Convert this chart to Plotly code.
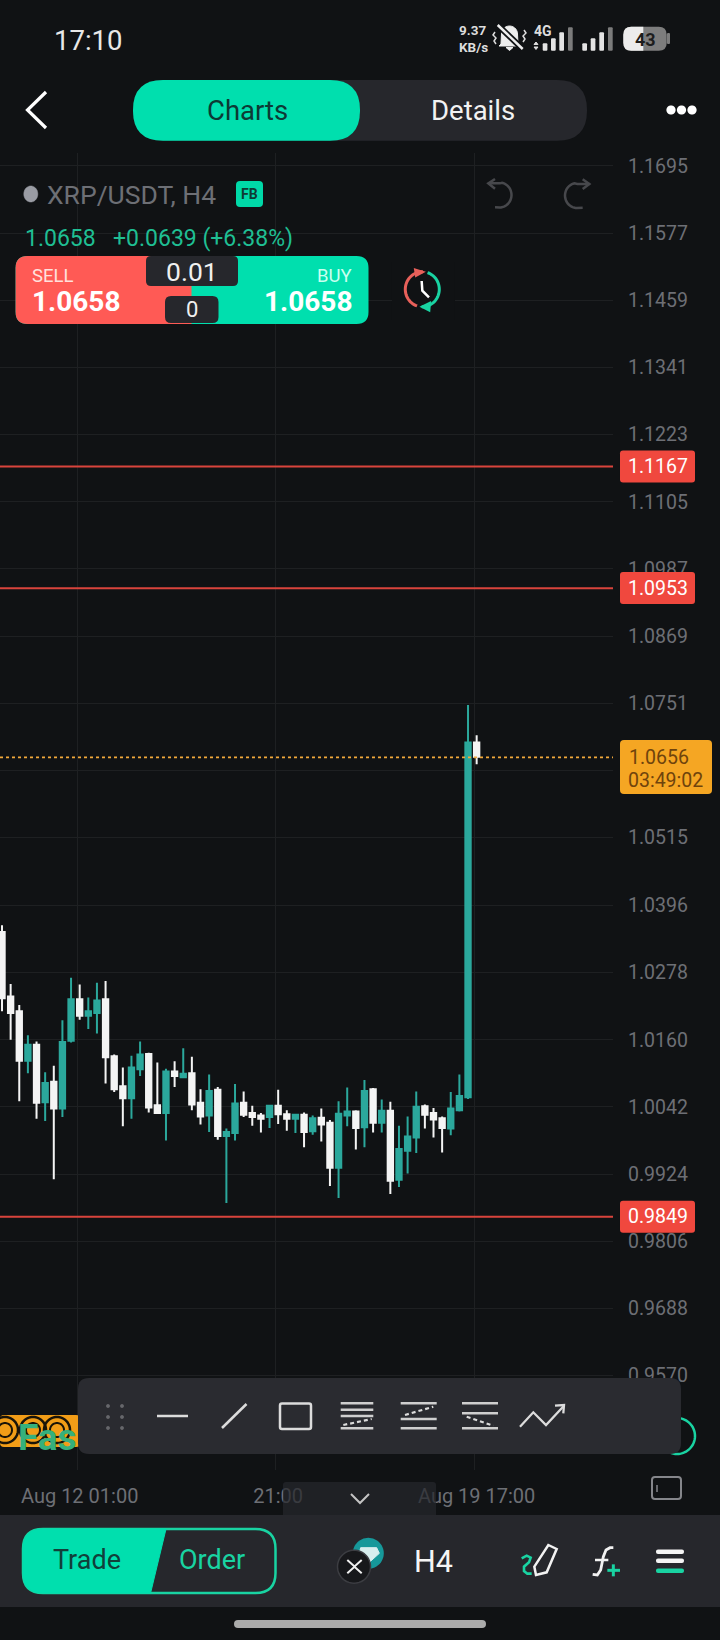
import math
import pandas as pd
import plotly.graph_objects as go

W, H = 720, 1640
BG = "#101214"
GRID = "#1e2022"
PANEL = "#26272c"
GREEN = "#00DFAE"
TEAL = "#2BA89C"
RED = "#FF5A55"
AXIS_TXT = "#6d6f75"

# ---------- data ----------
first_candle = "2021-08-10 13:00"
opens = [1.0349,1.0236,1.0210,1.0123,1.0151,1.0050,1.0086,1.0039,1.0158,1.0231,1.0202,1.0207,1.0231,1.0131,1.0078,1.0057,
         1.0108,1.0135,1.0045,1.0031,1.0104,1.0094,1.0101,1.0049,1.0027,1.0072,0.9991,0.9996,1.0049,1.0031,1.0027,1.0024,
         1.0044,1.0029,1.0021,1.0028,0.9999,1.0023,1.0014,0.9935,1.0027,1.0034,1.0006,1.0073,1.0014,1.0035,0.9914,0.9965,
         0.9988,1.0043,1.0031,1.0022,1.0004,1.0036,1.0059,1.0682]
highs = [1.0361,1.0258,1.0221,1.0168,1.0157,1.0103,1.0114,1.0194,1.0269,1.0257,1.0234,1.0260,1.0263,1.0134,1.0111,1.0132,
         1.0157,1.0137,1.0120,1.0109,1.0122,1.0145,1.0130,1.0073,1.0099,1.0077,1.0004,1.0082,1.0069,1.0044,1.0031,1.0045,
         1.0072,1.0036,1.0028,1.0032,1.0027,1.0039,1.0019,1.0052,1.0076,1.0036,1.0089,1.0075,1.0055,1.0051,1.0009,1.0025,
         1.0069,1.0046,1.0040,1.0025,1.0068,1.0099,1.0748,1.0695]
lows = [1.0210,1.0160,1.0052,1.0101,1.0021,1.0017,0.9915,1.0024,1.0155,1.0195,1.0179,1.0171,1.0083,1.0068,1.0008,1.0021,
        1.0096,1.0032,1.0030,0.9983,1.0077,1.0093,1.0036,1.0011,0.9998,0.9984,0.9873,0.9983,1.0024,1.0009,0.9997,1.0005,
        1.0012,1.0000,0.9996,0.9971,0.9993,0.9981,0.9903,0.9882,1.0008,0.9967,0.9971,0.9997,0.9997,0.9889,0.9901,0.9925,
        0.9961,1.0004,0.9988,0.9962,0.9992,1.0034,1.0056,1.0644]
closes = [1.0233,1.0207,1.0123,1.0151,1.0049,1.0084,1.0039,1.0156,1.0231,1.0202,1.0210,1.0229,1.0129,1.0073,1.0057,1.0111,
          1.0134,1.0041,1.0031,1.0104,1.0096,1.0100,1.0046,1.0025,1.0070,0.9991,0.9998,1.0048,1.0028,1.0024,1.0021,1.0044,
          1.0029,1.0021,1.0028,0.9998,1.0022,1.0011,0.9935,1.0030,1.0034,1.0005,1.0070,1.0014,1.0035,0.9912,0.9968,0.9990,
          1.0042,1.0028,1.0020,1.0005,1.0039,1.0061,1.0682,1.0657]

price_ticks = [1.1695,1.1577,1.1459,1.1341,1.1223,1.1105,1.0987,1.0869,1.0751,1.0633,1.0515,1.0396,1.0278,1.0160,1.0042,0.9924,0.9806,0.9688,0.9570]
price_labels = ["1.1695","1.1577","1.1459","1.1341","1.1223","1.1105","1.0987","1.0869","1.0751","","1.0515","1.0396","1.0278","1.0160","1.0042","0.9924","0.9806","0.9688","0.9570"]
time_ticks = ["2021-08-12 01:00","2021-08-15 21:00","2021-08-19 17:00"]
time_grid = ["2021-08-11 23:50","2021-08-15 19:50","2021-08-19 15:50"]
time_labels = ["Aug 12 01:00","21:00","Aug 19 17:00"]
level_prices = [1.1167, 1.0953, 0.9849]
last_price = 1.0656

times = pd.date_range(first_candle, periods=len(opens), freq="4h")

# ---------- pixel helpers for the surrounding app chrome ----------
PLOT_R, PLOT_T, PLOT_B = 613, 153, 1470
def X(x): return x / W
def Y(y): return 1 - y / H
shapes, notes = [], []

def poly(pts, color, width=2.5, fill=None, closed=False):
    d = "M" + " L".join(f"{X(x):.5f},{Y(y):.5f}" for x, y in pts) + (" Z" if closed else "")
    s = dict(type="path", path=d, xref="paper", yref="paper", layer="above", line=dict(color=color, width=width))
    if fill: s["fillcolor"] = fill
    shapes.append(s)

def rrect(x0, y0, x1, y1, fill, r=0, rl=None, rr=None, line=None, lw=0):
    """rounded rectangle; rl/rr override the left/right corner radius"""
    a = r if rl is None else rl
    b = r if rr is None else rr
    c = lambda x, y: f"{X(x):.5f},{Y(y):.5f}"
    d = (f"M{c(x0+a,y0)} L{c(x1-b,y0)} Q{c(x1,y0)} {c(x1,y0+b)} L{c(x1,y1-b)} Q{c(x1,y1)} {c(x1-b,y1)} "
         f"L{c(x0+a,y1)} Q{c(x0,y1)} {c(x0,y1-a)} L{c(x0,y0+a)} Q{c(x0,y0)} {c(x0+a,y0)} Z")
    shapes.append(dict(type="path", path=d, xref="paper", yref="paper", layer="above", fillcolor=fill,
                       line=dict(color=line or fill, width=lw if line else 0)))

def arc(cx, cy, rx, ry, a0, a1, n=40):
    return [(cx + rx * math.cos(math.radians(a0 + (a1 - a0) * i / n)),
             cy + ry * math.sin(math.radians(a0 + (a1 - a0) * i / n))) for i in range(n + 1)]

def circle(cx, cy, r, fill=None, line=None, lw=0):
    poly(arc(cx, cy, r, r, 0, 360, 60), line or fill, lw, fill or "rgba(0,0,0,0)", True)

def text(x, y, s, size, color, anchor="left", family="Roboto"):
    notes.append(dict(x=X(x), y=Y(y), xref="paper", yref="paper", text=s, showarrow=False, xanchor=anchor,
                      yanchor="middle", borderpad=0, font=dict(size=size, color=color, family=family)))

# ---------- horizontal levels ----------
for lv in level_prices:
    shapes.append(dict(type="line", xref="paper", yref="y", x0=0, x1=PLOT_R / W, y0=lv, y1=lv, layer="above",
                       line=dict(color="#D9443C", width=2)))
shapes.append(dict(type="line", xref="paper", yref="y", x0=0, x1=PLOT_R / W, y0=last_price, y1=last_price, layer="above",
                   line=dict(color="#F2A93B", width=1.6, dash="3px,3px")))

level_y = {1.1167: 466.5, 1.0953: 588, 0.9849: 1216.7}
for lv, yy in level_y.items():
    rrect(620, yy - 16, 695, yy + 16, "#F0483E", 3)
    text(657.5, yy, f"{lv:.4f}", 19.5, "#ffffff", "center")
rrect(620, 740, 712, 794, "#F5A623", 4)
text(628, 757, f"{last_price:.4f}", 19.5, "#6f430c")
text(627, 780, "03:49:02", 19.5, "#6f430c")

# ---------- status bar ----------
text(53, 40, "17:10", 27.5, "#e8e8e8")
text(458, 30.5, "<b>9.37</b>", 13.5, "#dddddd")
text(458, 47, "<b>KB/s</b>", 13.5, "#dddddd")
bell = arc(509.5, 34, 8, 8, 180, 360, 14) + [(518, 44), (520, 46), (499, 46), (501, 44)]
poly(bell, "#eeeeee", 1, "#eeeeee", True)
poly([(506, 47.5), (513, 47.5), (509.5, 50.5)], "#eeeeee", 1, "#eeeeee", True)
poly([(497.7, 25), (522.7, 49)], BG, 6)
poly([(497.7, 25), (522.7, 49)], "#eeeeee", 2.5)
poly([(495, 32), (493, 35), (496, 38), (494, 41), (496, 44)], "#dddddd", 1.5)
poly([(524, 30), (526, 33), (523, 36), (525, 39), (523, 42)], "#dddddd", 1.5)
text(533, 31, "<b>4G</b>", 14, "#dddddd")
poly([(534, 44.5), (538, 44.5), (536, 42)], "#dddddd", 1, "#dddddd", True)
poly([(534, 47), (538, 47), (536, 49.5)], "#dddddd", 1, "#dddddd", True)
for x0, top, col in [(542.7, 43.3, "#e4e4e4"), (551, 38.3, "#e4e4e4"), (559.3, 32.3, "#e4e4e4"), (568, 27.3, "#7b7b7b"),
                     (582.3, 43.3, "#e4e4e4"), (590.7, 38.3, "#e4e4e4"), (599.3, 32.3, "#e4e4e4"), (608, 27.3, "#7b7b7b")]:
    rrect(x0, top, x0 + 4.7, 50.7, col, 1)
rrect(623.3, 26.7, 666.7, 50.7, "#7d7d7d", 8)
rrect(623.3, 26.7, 643.3, 50.7, "#ececec", 0, rl=8, rr=0)
rrect(667, 33, 670, 44, "#7d7d7d", 1)
text(645, 39.5, "<b>43</b>", 18, "#1d1d1d", "center")

# ---------- top navigation ----------
poly([(46, 92), (27.5, 110), (46, 128)], "#ffffff", 3.2)
rrect(133, 80, 587, 140.7, PANEL, 30)
rrect(133, 80, 360, 140.7, GREEN, 30)
text(247, 111, "Charts", 27.5, "#0d3a35", "center")
text(473, 111, "Details", 27.5, "#f2f2f2", "center")
for cx in (671, 681.5, 692):
    circle(cx, 110, 4.6, "#ffffff")

# ---------- chart heading ----------
poly(arc(30.8, 194, 7, 8, 0, 360, 40), "#9a9ca4", 0.5, "#9a9ca4", True)
text(46, 194, "XRP/USDT, H4", 26.5, "#6d6f75")
rrect(236, 181, 263, 207, "#00D9A8", 4)
text(249.5, 194, "<b>FB</b>", 14, "#0f3a34", "center")
def z10(x, y): return (380 + x / 3, 170 + y / 3)
undo = [z10(325, 40), z10(360, 40)] + arc(499.5, 195, 12, 12.5, -85, 90, 24)[1:] + [z10(345, 112)]
poly(undo, "#47484c", 2.5)
poly([z10(345, 27), z10(325, 40), z10(345, 56)], "#47484c", 2.5)
redo = [z10(628, 42), z10(592, 42)] + arc(577, 195.5, 12, 12.5, 265, 90, 24)[1:] + [z10(608, 113)]
poly(redo, "#47484c", 2.5)
poly([z10(608, 28), z10(628, 42), z10(608, 57)], "#47484c", 2.5)
text(23.5, 238, "1.0658", 23, "#1FBF93")
text(111.5, 238, "+0.0639 (+6.38%)", 23, "#1FBF93")

# ---------- quick trade panel ----------
rrect(15.6, 256, 368.5, 324, GREEN, 12)
rrect(15.6, 256, 191.5, 324, RED, 0, rl=12, rr=0)
rrect(146, 256, 238, 286, PANEL, 5)
rrect(165, 296, 218.5, 323, PANEL, 6)
text(192, 271, "0.01", 26.5, "#f0f0f0", "center")
text(191.5, 309, "0", 22, "#f0f0f0", "center")
text(30.5, 276, "SELL", 18.5, "#ffe1dd")
text(353, 276, "BUY", 18.5, "#c9fff0", "right")
text(31, 302, "<b>1.0658</b>", 28, "#ffffff")
text(353, 302, "<b>1.0658</b>", 28, "#ffffff", "right")

# ---------- sync clock ----------
rrect(392, 262, 455, 320, BG, 0)
poly(arc(422.3, 289.3, 17, 17.5, 108, 272, 30), "#E8605A", 3)
poly([z10(105, 298), z10(130, 306), z10(108, 318)], "#E8605A", 2, "#E8605A", True)
poly(arc(422.3, 289.3, 17, 17.5, -72, 92, 30), "#19D3A2", 3)
poly([z10(150, 398), z10(125, 410), z10(148, 422)], "#19D3A2", 2, "#19D3A2", True)
poly([z10(125, 333), z10(127, 362), z10(147, 382)], "#ffffff", 2.5)

# ---------- bottom-left logo fragments ----------
rrect(0, 1415, 80, 1447, "#F29D17", 4)
for cx in (5, 33, 57):
    circle(cx, 1430, 13, None, "#1a1408", 2.5)
    circle(cx, 1430, 7, None, "#1a1408", 2)
text(17, 1437, "<b>Fas</b>", 37, "#35B07C")
circle(677, 1436, 18, None, "#19D3A2", 2.5)

# ---------- drawing toolbar ----------
rrect(78, 1378, 681, 1454, "#2a2b30", 11)
for gx in (108, 122):
    for gy in (1406, 1417, 1428):
        circle(gx, gy, 1.9, "#66676b")
ICON = "#dcdcdc"
poly([(157, 1416), (188, 1416)], ICON, 2.5)
poly([(222, 1428), (246.5, 1404)], ICON, 2.5)
rrect(280, 1403.5, 311, 1429, "rgba(0,0,0,0)", 2, line=ICON, lw=2.5)
for x0, x1, ys, d in [(340.7, 373.3, (1403.3, 1409.7, 1416, 1428.3), ((343.3, 1425), (371.7, 1419))),
                      (400.7, 436.7, (1403.3, 1419, 1428.3), ((405, 1415), (433.3, 1406.7))),
                      (462, 498, (1403.3, 1413.3, 1428.3), ((466.7, 1416.7), (493.3, 1425.7)))]:
    for yy in ys:
        poly([(x0, yy), (x1, yy)], "#cfcfcf", 2.5)
    shapes.append(dict(type="line", xref="paper", yref="paper", layer="above", x0=X(d[0][0]), y0=Y(d[0][1]),
                       x1=X(d[1][0]), y1=Y(d[1][1]), line=dict(color="#dcdcdc", width=2.2, dash="4px,3px")))
poly([(520, 1426.7), (533.3, 1412.3), (546, 1425), (564, 1405.7)], ICON, 2.3)
poly([(555, 1405.7), (564, 1405), (563.3, 1413.3)], ICON, 2.3)

# ---------- under-axis controls ----------
rrect(283, 1482, 436, 1520, "rgba(38,39,44,0.72)", 3)
poly([(351, 1494), (360, 1503), (369, 1494)], "#c4c4c4", 2)
rrect(652, 1477, 681, 1499, "rgba(0,0,0,0)", 3, line="#85868b", lw=2)
poly([(657, 1485), (657, 1492)], "#85868b", 1.5)

# ---------- bottom bar ----------
rrect(0, 1515, 720, 1607, PANEL)
rrect(23, 1529, 275.5, 1593, PANEL, 20, line="#19D3A2", lw=2.5)
c = lambda x, y: f"{X(x):.5f},{Y(y):.5f}"
shapes.append(dict(type="path", xref="paper", yref="paper", layer="above", fillcolor=GREEN, line=dict(color=GREEN, width=1),
                   path=f"M{c(43,1529)} L{c(166,1529)} L{c(150.6,1593)} L{c(43,1593)} Q{c(23,1593)} {c(23,1573)} L{c(23,1549)} Q{c(23,1529)} {c(43,1529)} Z"))
text(87, 1560, "Trade", 27, "#11403a", "center")
text(212, 1560, "Order", 27, "#19D3A2", "center")

def z9(x, y): return (330 + x / 3, 1525 + y / 3)
circle(368.3, 1553.3, 15.5, "#16989A")
poly([z9(92, 68), z9(140, 68), z9(148, 85), z9(118, 112), z9(88, 85)], "#d7eeee", 1, "#d7eeee", True)
circle(354, 1566.7, 16.5, "#17181b", "#3c3d42", 1.5)
poly([(347.3, 1560), (354.5, 1566.5), (361.7, 1560)], "#f0f0f0", 2)
poly([(347.3, 1573.3), (354.5, 1566.8), (361.7, 1573.3)], "#f0f0f0", 2)
text(433.3, 1561, "H4", 30.5, "#f5f5f5", "center")
poly([z9(575, 100), z9(590, 92), z9(602, 98), z9(597, 112), z9(582, 125), z9(582, 138), z9(592, 146), z9(605, 146)], "#19D3A2", 2.6)
poly([z9(618, 150), z9(613, 125), z9(655, 60), z9(680, 72), z9(650, 142)], "#f2f2f2", 2.5, "rgba(0,0,0,0)", True)
poly([z9(788, 148), z9(802, 150), z9(812, 135), z9(820, 95), z9(828, 75), z9(840, 68), z9(850, 68)], "#f2f2f2", 2.8)
poly([z9(795, 105), z9(835, 105)], "#f2f2f2", 2.5)
poly([z9(850, 118), z9(850, 154)], "#19D3A2", 3)
poly([z9(832, 136), z9(870, 136)], "#19D3A2", 3)
for yy, col in [(1551.7, "#f4f4f4"), (1560.7, "#f4f4f4"), (1570.7, "#19D3A2")]:
    rrect(656, yy - 2.2, 684, yy + 2.2, col, 2)
rrect(234, 1620, 486, 1628, "#ababab", 4)

# ---------- figure ----------
fig = go.Figure(go.Candlestick(
    x=times, open=opens, high=highs, low=lows, close=closes, whiskerwidth=0, showlegend=False,
    increasing=dict(line=dict(color=TEAL, width=2), fillcolor=TEAL),
    decreasing=dict(line=dict(color="#F4F4F4", width=2), fillcolor="#F4F4F4"),
))
fig.update_layout(
    width=W, height=H, margin=dict(l=0, r=0, t=0, b=0), paper_bgcolor=BG, plot_bgcolor=BG,
    font=dict(family="Roboto", color=AXIS_TXT), boxgap=0.38, boxgroupgap=0, showlegend=False,
    shapes=shapes, annotations=notes,
    xaxis=dict(domain=[0, PLOT_R / W], type="date", range=["2021-08-10 12:04", "2021-08-22 08:12"],
               rangeslider=dict(visible=False), tickmode="array", tickvals=time_ticks, ticktext=time_labels,
               showgrid=False, zeroline=False, showline=False, ticks="",
               minor=dict(tickmode="array", tickvals=time_grid, showgrid=True, gridcolor=GRID, gridwidth=1, ticks=""),
               ticklabelstandoff=12, tickfont=dict(size=20, color=AXIS_TXT, family="Roboto")),
    yaxis=dict(domain=[Y(PLOT_B), Y(PLOT_T)], range=[0.9404, 1.17178], side="right", tickmode="array",
               tickvals=price_ticks, ticktext=price_labels,
               showgrid=True, gridcolor=GRID, gridwidth=1, zeroline=False, showline=False, ticks="",
               ticklabelstandoff=14, tickfont=dict(size=19.5, color=AXIS_TXT, family="Roboto")),
)
fig.write_html("out.html", config=dict(displayModeBar=False),
               post_script="document.body.style.margin='0';document.body.style.background='#101214';")
